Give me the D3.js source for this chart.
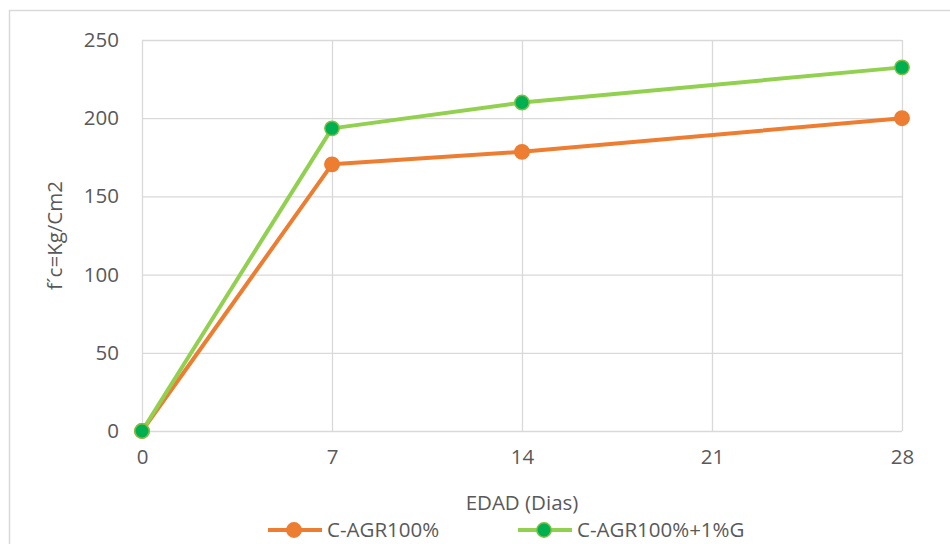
<!DOCTYPE html>
<html lang="en">
<head>
    <meta charset="utf-8">
    <title>f'c vs EDAD</title>
    <script type="text/javascript" src="https://d3js.org/d3.v7.min.js"></script>
    <style>
        body { margin: 0; background: white; }
        svg text { font-family: "Open Sans", sans-serif; fill: #595959; }
        .grid line { stroke: #d9d9d9; stroke-width: 1.3; }
        .grid path { display: none; }
        .axis path, .axis line { display: none; }
        .axis text { font-size: 20.5px; }
    </style>
</head>
<body>
    <div id="chart"></div>
    <script type="text/javascript">
        // data
        const dias = [0, 7, 14, 28];
        const cAgr100 = [0, 170.5, 178.5, 200];
        const cAgr100G = [0, 193.5, 210, 232.5];
        const xTicks = [0, 7, 14, 21, 28];
        const yTicks = [0, 50, 100, 150, 200, 250];
        const seriesNames = ["C-AGR100%", "C-AGR100%+1%G"];

        const width = 950;
        const height = 544;
        const margin = ({ left: 142, right: 48, top: 40, bottom: 113 });

        const svg = d3.select("#chart")
            .append("svg")
            .attr("width", width)
            .attr("height", height);

        // outer chart border
        svg.append("rect")
            .attr("x", 9.5).attr("y", 10.5)
            .attr("width", 1000).attr("height", 600)
            .attr("fill", "none")
            .attr("stroke", "#d9d9d9")
            .attr("stroke-width", 1.5);

        const x = d3.scaleLinear()
            .domain([0, 28])
            .range([margin.left, width - margin.right]);
        const y = d3.scaleLinear()
            .domain([0, 250])
            .range([height - margin.bottom, margin.top]);

        // grid lines
        svg.append("g")
            .attr("class", "grid")
            .attr("transform", `translate(0, ${margin.top})`)
            .call(d3.axisBottom(x).tickValues(xTicks).tickSize(y(0) - margin.top).tickFormat(""));
        svg.append("g")
            .attr("class", "grid")
            .attr("transform", `translate(${margin.left}, 0)`)
            .call(d3.axisRight(y).tickValues(yTicks).tickSize(x(28) - margin.left).tickFormat(""));

        // tick labels
        svg.append("g")
            .attr("class", "x axis")
            .attr("transform", `translate(0, ${y(0)})`)
            .call(d3.axisBottom(x).tickValues(xTicks).tickSize(0).tickPadding(18));
        svg.append("g")
            .attr("class", "y axis")
            .attr("transform", `translate(${margin.left}, 0)`)
            .call(d3.axisLeft(y).tickValues(yTicks).tickSize(0).tickPadding(23));

        // axis titles
        svg.append("text")
            .attr("x", (x(0) + x(28)) / 2)
            .attr("y", 510)
            .attr("text-anchor", "middle")
            .attr("font-size", 20.5)
            .text("EDAD (Dias)");
        svg.append("text")
            .attr("transform", `translate(62, ${(y(0) + y(250)) / 2}) rotate(-90)`)
            .attr("text-anchor", "middle")
            .attr("font-size", 20.5)
            .text("f´c=Kg/Cm2");

        const series = [
            { name: seriesNames[0], values: cAgr100, line: "#ed7d31", fill: "#ed7d31", stroke: "#ed7d31" },
            { name: seriesNames[1], values: cAgr100G, line: "#92d050", fill: "#00b050", stroke: "#7cc142" }
        ];

        const line = d3.line()
            .x((d, i) => x(dias[i]))
            .y(d => y(d));

        series.forEach(s => {
            svg.append("path")
                .datum(s.values)
                .attr("fill", "none")
                .attr("stroke", s.line)
                .attr("stroke-width", 4)
                .attr("stroke-linejoin", "round")
                .attr("d", line);
        });
        series.forEach(s => {
            svg.append("g")
                .selectAll("circle")
                .data(s.values)
                .enter()
                .append("circle")
                .attr("cx", (d, i) => x(dias[i]))
                .attr("cy", d => y(d))
                .attr("r", 7.2)
                .attr("fill", s.fill)
                .attr("stroke", s.stroke)
                .attr("stroke-width", 1.5);
        });

        // legend
        const legendX = [268, 518];
        const legend = svg.append("g")
            .selectAll("g")
            .data(series)
            .enter()
            .append("g")
            .attr("transform", (d, i) => `translate(${legendX[i]}, 530)`);
        legend.append("line")
            .attr("x1", 0).attr("x2", 54)
            .attr("stroke", d => d.line)
            .attr("stroke-width", 4);
        legend.append("circle")
            .attr("cx", 26)
            .attr("r", 7.2)
            .attr("fill", d => d.fill)
            .attr("stroke", d => d.stroke)
            .attr("stroke-width", 1.5);
        legend.append("text")
            .attr("x", 59)
            .attr("y", 7)
            .attr("font-size", 20.5)
            .text(d => d.name);
    </script>
</body>
</html>
